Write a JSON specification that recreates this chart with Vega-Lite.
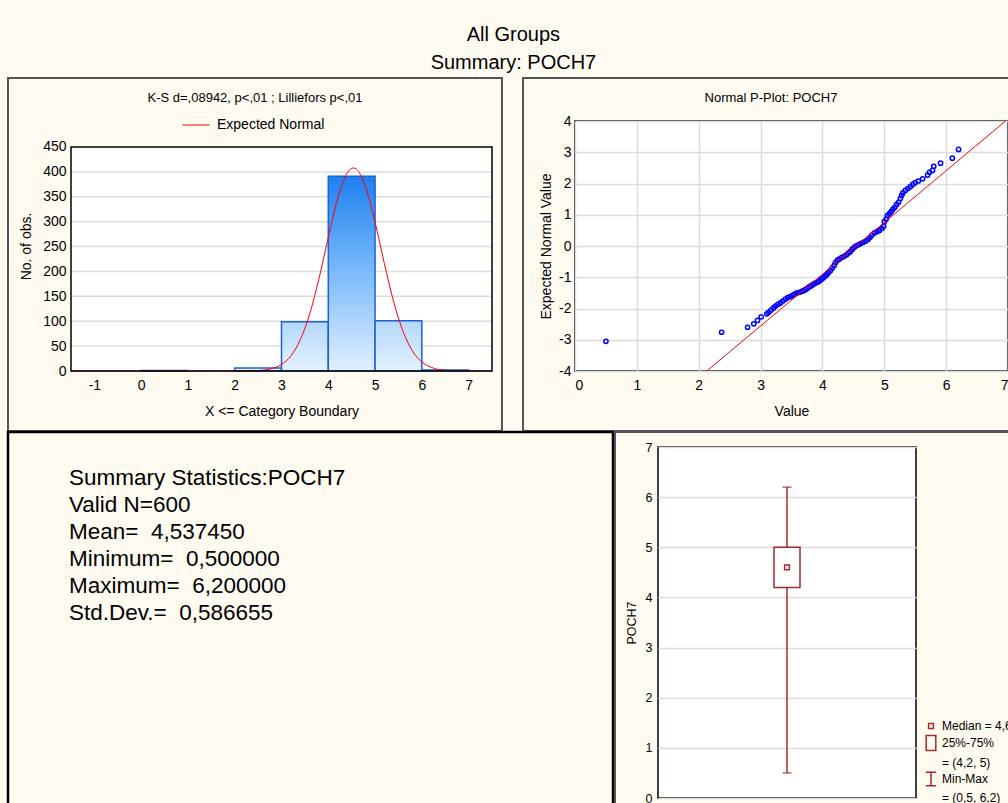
{
  "$schema": "https://vega.github.io/schema/vega-lite/v6.json",
  "background": "#FFFBF0",
  "padding": {"left": 6, "top": 25, "right": 0, "bottom": 0},
  "title": {"text": ["All Groups", "Summary: POCH7"], "fontSize": 20, "fontWeight": "normal", "font": "Liberation Sans", "lineHeight": 28, "anchor": "middle", "offset": 3, "dx": -3, "color": "#000"},
  "config": {
    "font": "Liberation Sans",
    "view": {"fill": "white", "stroke": "black", "strokeWidth": 1.5},
    "axis": {"domain": false, "ticks": false, "labelColor": "#000", "titleColor": "#000", "titleFontWeight": "normal", "labelFont": "Liberation Sans", "titleFont": "Liberation Sans", "gridColor": "#DCDCDC", "gridWidth": 1.5, "labelFontSize": 14, "titleFontSize": 14, "labelOverlap": false, "labelExpr": "datum.value < 0 ? '-' + abs(datum.value) : '' + datum.value"},
    "title": {"fontSize": 13, "fontWeight": "normal", "color": "#000", "font": "Liberation Sans"}
  },
  "resolve": {"scale": {"color": "independent", "shape": "independent"}, "legend": {"color": "independent", "shape": "independent"}},
  "columns": 1,
  "align": "none",
  "spacing": -3,
  "concat": [
    {
      "align": "none",
      "spacing": 18,
      "resolve": {"scale": {"color": "independent", "shape": "independent"}, "legend": {"color": "independent", "shape": "independent"}},
      "concat": [
        {
          "width": 421, "height": 250,
          "view": {"fill": null, "stroke": null},
          "layer": [
            {
              "data": {"values": [{}]},
              "mark": {"type": "rect", "filled": false, "stroke": "#555555", "strokeWidth": 2, "clip": false},
              "encoding": {
                "x": {"datum": -2.847, "type": "quantitative", "scale": {"domain": [-1.5, 7.5], "nice": false, "zero": false}, "axis": {"values": [-1, 0, 1, 2, 3, 4, 5, 6, 7], "title": "X <= Category Boundary", "grid": false, "labelPadding": 7, "titlePadding": 12}},
                "x2": {"datum": 7.713},
                "y": {"datum": 588.6, "type": "quantitative", "scale": {"domain": [0, 502.23], "nice": false, "zero": false}, "axis": {"values": [0, 50, 100, 150, 200, 250, 300, 350, 400, 450], "title": "No. of obs.", "grid": false, "labelPadding": 5, "titlePadding": 9}},
                "y2": {"datum": -120.5}
              }
            },
            {
              "data": {"values": [{}]},
              "mark": {"type": "text", "text": "K-S d=,08942, p<,01 ; Lilliefors p<,01", "fontSize": 13, "font": "Liberation Sans", "align": "center", "baseline": "middle", "color": "#000", "clip": false},
              "encoding": {
                "x": {"datum": 2.433, "type": "quantitative", "scale": {"domain": [-1.5, 7.5], "nice": false, "zero": false}, "axis": {"values": [-1, 0, 1, 2, 3, 4, 5, 6, 7], "title": "X <= Category Boundary", "grid": false, "labelPadding": 7, "titlePadding": 12}},
                "y": {"datum": 548.4, "type": "quantitative", "scale": {"domain": [0, 502.23], "nice": false, "zero": false}, "axis": {"values": [0, 50, 100, 150, 200, 250, 300, 350, 400, 450], "title": "No. of obs.", "grid": false, "labelPadding": 5, "titlePadding": 9}}
              }
            },
            {
              "data": {"values": [{}]},
              "mark": {"type": "rect", "fill": "white", "strokeWidth": 0},
              "encoding": {
                "x": {"datum": -1.5, "type": "quantitative", "scale": {"domain": [-1.5, 7.5], "nice": false, "zero": false}, "axis": {"values": [-1, 0, 1, 2, 3, 4, 5, 6, 7], "title": "X <= Category Boundary", "grid": false, "labelPadding": 7, "titlePadding": 12}},
                "x2": {"datum": 7.5},
                "y": {"datum": 0, "type": "quantitative", "scale": {"domain": [0, 502.23], "nice": false, "zero": false}, "axis": {"values": [0, 50, 100, 150, 200, 250, 300, 350, 400, 450], "title": "No. of obs.", "grid": false, "labelPadding": 5, "titlePadding": 9}},
                "y2": {"datum": 450}
              }
            },
            {
              "data": {"values": [{"count": 50}, {"count": 100}, {"count": 150}, {"count": 200}, {"count": 250}, {"count": 300}, {"count": 350}, {"count": 400}]},
              "mark": {"type": "rule", "color": "#DCDCDC", "strokeWidth": 1.5},
              "encoding": {
                "x": {"datum": -1.5, "type": "quantitative", "scale": {"domain": [-1.5, 7.5], "nice": false, "zero": false}, "axis": {"values": [-1, 0, 1, 2, 3, 4, 5, 6, 7], "title": "X <= Category Boundary", "grid": false, "labelPadding": 7, "titlePadding": 12}},
                "x2": {"datum": 7.5},
                "y": {"field": "count", "type": "quantitative", "scale": {"domain": [0, 502.23], "nice": false, "zero": false}, "axis": {"values": [0, 50, 100, 150, 200, 250, 300, 350, 400, 450], "title": "No. of obs.", "grid": false, "labelPadding": 5, "titlePadding": 9}}
              }
            },
            {
              "data": {"values": [
                {"value": 0, "value_end": 1, "count": 1},
                {"value": 2, "value_end": 3, "count": 6},
                {"value": 3, "value_end": 4, "count": 99},
                {"value": 4, "value_end": 5, "count": 391},
                {"value": 5, "value_end": 6, "count": 101},
                {"value": 6, "value_end": 7, "count": 2}
              ]},
              "mark": {"type": "rect", "stroke": "#1F5FD6", "strokeWidth": 1.5},
              "encoding": {
                "x": {"field": "value", "type": "quantitative", "scale": {"domain": [-1.5, 7.5], "nice": false, "zero": false}, "axis": {"values": [-1, 0, 1, 2, 3, 4, 5, 6, 7], "title": "X <= Category Boundary", "grid": false, "labelPadding": 7, "titlePadding": 12}},
                "x2": {"field": "value_end"},
                "y": {"field": "count", "type": "quantitative", "scale": {"domain": [0, 502.23], "nice": false, "zero": false}, "axis": {"values": [0, 50, 100, 150, 200, 250, 300, 350, 400, 450], "title": "No. of obs.", "grid": false, "labelPadding": 5, "titlePadding": 9}},
                "y2": {"datum": 0},
                "fill": {
                  "condition": [
                    {"test": "datum.count > 300", "value": {"gradient": "linear", "x1": 0, "y1": 0, "x2": 0, "y2": 1, "stops": [{"offset": 0, "color": "#1E80F0"}, {"offset": 0.5, "color": "#7DBBFA"}, {"offset": 1, "color": "#E2F0FF"}]}},
                    {"test": "datum.count > 50", "value": {"gradient": "linear", "x1": 0, "y1": 0, "x2": 0, "y2": 1, "stops": [{"offset": 0, "color": "#B3D7FC"}, {"offset": 1, "color": "#E4F2FF"}]}}
                  ],
                  "value": {"gradient": "linear", "x1": 0, "y1": 0, "x2": 0, "y2": 1, "stops": [{"offset": 0, "color": "#DCEEFF"}, {"offset": 1, "color": "#E6F3FF"}]}
                }
              }
            },
            {
              "data": {"values": [
                {"value": -1.5, "count": 0}, {"value": 1.5, "count": 0}, {"value": 2.0, "count": 0.04}, {"value": 2.5, "count": 0.98},
                {"value": 2.8, "count": 5.1}, {"value": 3.0, "count": 13.2}, {"value": 3.2, "count": 30.3}, {"value": 3.4, "count": 62.3},
                {"value": 3.6, "count": 113.8}, {"value": 3.8, "count": 185.2}, {"value": 4.0, "count": 268.2}, {"value": 4.2, "count": 345.8},
                {"value": 4.4, "count": 397.0}, {"value": 4.5375, "count": 408.0}, {"value": 4.6, "count": 405.7}, {"value": 4.8, "count": 369.1},
                {"value": 5.0, "count": 299.0}, {"value": 5.2, "count": 215.6}, {"value": 5.4, "count": 138.4}, {"value": 5.6, "count": 79.1},
                {"value": 5.8, "count": 40.3}, {"value": 6.0, "count": 18.2}, {"value": 6.2, "count": 7.4}, {"value": 6.5, "count": 1.5},
                {"value": 7.0, "count": 0.06}, {"value": 7.5, "count": 0}
              ]},
              "mark": {"type": "line", "interpolate": "monotone", "strokeWidth": 1},
              "encoding": {
                "x": {"field": "value", "type": "quantitative", "scale": {"domain": [-1.5, 7.5], "nice": false, "zero": false}, "axis": {"values": [-1, 0, 1, 2, 3, 4, 5, 6, 7], "title": "X <= Category Boundary", "grid": false, "labelPadding": 7, "titlePadding": 12}},
                "y": {"field": "count", "type": "quantitative", "scale": {"domain": [0, 502.23], "nice": false, "zero": false}, "axis": {"values": [0, 50, 100, 150, 200, 250, 300, 350, 400, 450], "title": "No. of obs.", "grid": false, "labelPadding": 5, "titlePadding": 9}},
                "color": {"datum": "Expected Normal", "type": "nominal", "scale": {"range": ["#FF0000"]},
                  "legend": {"title": null, "orient": "none", "legendX": 111, "legendY": -10, "direction": "horizontal", "symbolType": "stroke", "symbolSize": 729, "symbolStrokeWidth": 1, "labelFontSize": 14, "labelOffset": 7, "padding": 0, "labelColor": "#000", "labelFont": "Liberation Sans"}}
              }
            },
            {
              "data": {"values": [{}]},
              "mark": {"type": "rect", "filled": false, "stroke": "#000000", "strokeWidth": 1.5},
              "encoding": {
                "x": {"datum": -1.5, "type": "quantitative", "scale": {"domain": [-1.5, 7.5], "nice": false, "zero": false}, "axis": {"values": [-1, 0, 1, 2, 3, 4, 5, 6, 7], "title": "X <= Category Boundary", "grid": false, "labelPadding": 7, "titlePadding": 12}},
                "x2": {"datum": 7.5},
                "y": {"datum": 0, "type": "quantitative", "scale": {"domain": [0, 502.23], "nice": false, "zero": false}, "axis": {"values": [0, 50, 100, 150, 200, 250, 300, 350, 400, 450], "title": "No. of obs.", "grid": false, "labelPadding": 5, "titlePadding": 9}},
                "y2": {"datum": 450}
              }
            }
          ]
        },
        {
          "width": 433, "height": 250,
          "layer": [
            {
              "data": {"values": [{}]},
              "mark": {"type": "rect", "filled": false, "stroke": "#555555", "strokeWidth": 2, "clip": false},
              "encoding": {
                "x": {"datum": -0.84, "type": "quantitative", "scale": {"domain": [0, 7], "nice": false, "zero": false}, "axis": {"title": "Value", "values": [0, 1, 2, 3, 4, 5, 6, 7], "grid": true, "labelPadding": 7, "titlePadding": 12}},
                "x2": {"datum": 7.25},
                "y": {"datum": 5.376, "type": "quantitative", "scale": {"domain": [-4, 4], "nice": false, "zero": false}, "axis": {"title": "Expected Normal Value", "values": [-4, -3, -2, -1, 0, 1, 2, 3, 4], "grid": true, "labelPadding": 4, "titlePadding": 5}},
                "y2": {"datum": -5.92}
              }
            },
            {
              "data": {"values": [{}]},
              "mark": {"type": "text", "text": "Normal P-Plot: POCH7", "fontSize": 13, "font": "Liberation Sans", "align": "center", "baseline": "middle", "color": "#000", "clip": false},
              "encoding": {
                "x": {"datum": 3.168, "type": "quantitative", "scale": {"domain": [0, 7], "nice": false, "zero": false}, "axis": {"title": "Value", "values": [0, 1, 2, 3, 4, 5, 6, 7], "grid": true, "labelPadding": 7, "titlePadding": 12}},
                "y": {"datum": 4.736, "type": "quantitative", "scale": {"domain": [-4, 4], "nice": false, "zero": false}, "axis": {"title": "Expected Normal Value", "values": [-4, -3, -2, -1, 0, 1, 2, 3, 4], "grid": true, "labelPadding": 4, "titlePadding": 5}}
              }
            },
            {
              "data": {"values": [
                {"value": 0.5, "expected": -3.05}, {"value": 2.37, "expected": -2.76}, {"value": 2.79, "expected": -2.6},
                {"value": 2.89, "expected": -2.49}, {"value": 2.95, "expected": -2.38}, {"value": 3.01, "expected": -2.27},
                {"value": 3.1, "expected": -2.17}, {"value": 3.13, "expected": -2.12}, {"value": 3.17, "expected": -2.05},
                {"value": 3.21, "expected": -1.98}, {"value": 3.24, "expected": -1.92}, {"value": 3.28, "expected": -1.87},
                {"value": 3.32, "expected": -1.82}, {"value": 3.36, "expected": -1.76}, {"value": 3.4, "expected": -1.7},
                {"value": 3.44, "expected": -1.65}, {"value": 3.48, "expected": -1.62}, {"value": 3.52, "expected": -1.58},
                {"value": 3.55, "expected": -1.54}, {"value": 3.59, "expected": -1.5}, {"value": 3.63, "expected": -1.48},
                {"value": 3.67, "expected": -1.45}, {"value": 3.7, "expected": -1.42}, {"value": 3.73, "expected": -1.39},
                {"value": 3.76, "expected": -1.35}, {"value": 3.79, "expected": -1.3}, {"value": 3.82, "expected": -1.27},
                {"value": 3.85, "expected": -1.23}, {"value": 3.88, "expected": -1.19}, {"value": 3.92, "expected": -1.16},
                {"value": 3.95, "expected": -1.12}, {"value": 3.98, "expected": -1.07}, {"value": 4.01, "expected": -1.02},
                {"value": 4.04, "expected": -0.97}, {"value": 4.07, "expected": -0.92}, {"value": 4.1, "expected": -0.85},
                {"value": 4.13, "expected": -0.78}, {"value": 4.16, "expected": -0.7}, {"value": 4.19, "expected": -0.62},
                {"value": 4.21, "expected": -0.53}, {"value": 4.24, "expected": -0.46}, {"value": 4.27, "expected": -0.42},
                {"value": 4.31, "expected": -0.37}, {"value": 4.35, "expected": -0.33}, {"value": 4.39, "expected": -0.28},
                {"value": 4.42, "expected": -0.23}, {"value": 4.45, "expected": -0.18}, {"value": 4.48, "expected": -0.11},
                {"value": 4.51, "expected": -0.05}, {"value": 4.54, "expected": 0.0}, {"value": 4.58, "expected": 0.04},
                {"value": 4.62, "expected": 0.08}, {"value": 4.66, "expected": 0.12}, {"value": 4.7, "expected": 0.16},
                {"value": 4.74, "expected": 0.22}, {"value": 4.77, "expected": 0.28}, {"value": 4.8, "expected": 0.35},
                {"value": 4.84, "expected": 0.42}, {"value": 4.88, "expected": 0.46}, {"value": 4.92, "expected": 0.5},
                {"value": 4.96, "expected": 0.56}, {"value": 4.99, "expected": 0.63}, {"value": 5.0, "expected": 0.78},
                {"value": 5.03, "expected": 0.86}, {"value": 5.05, "expected": 0.97}, {"value": 5.08, "expected": 1.03},
                {"value": 5.11, "expected": 1.1}, {"value": 5.14, "expected": 1.18}, {"value": 5.17, "expected": 1.24},
                {"value": 5.2, "expected": 1.33}, {"value": 5.23, "expected": 1.4}, {"value": 5.26, "expected": 1.52},
                {"value": 5.28, "expected": 1.62}, {"value": 5.3, "expected": 1.7}, {"value": 5.34, "expected": 1.78},
                {"value": 5.38, "expected": 1.84}, {"value": 5.42, "expected": 1.9}, {"value": 5.46, "expected": 1.97},
                {"value": 5.5, "expected": 2.03}, {"value": 5.55, "expected": 2.08}, {"value": 5.62, "expected": 2.15},
                {"value": 5.7, "expected": 2.27}, {"value": 5.73, "expected": 2.36}, {"value": 5.78, "expected": 2.42},
                {"value": 5.8, "expected": 2.55}, {"value": 5.91, "expected": 2.65}, {"value": 6.1, "expected": 2.81},
                {"value": 6.2, "expected": 3.09}
              ]},
              "mark": {"type": "point", "shape": "circle", "filled": false, "color": "#0000FF", "size": 18, "strokeWidth": 1.5, "opacity": 1},
              "encoding": {
                "x": {"field": "value", "type": "quantitative", "scale": {"domain": [0, 7], "nice": false, "zero": false}, "axis": {"title": "Value", "values": [0, 1, 2, 3, 4, 5, 6, 7], "grid": true, "labelPadding": 7, "titlePadding": 12}},
                "y": {"field": "expected", "type": "quantitative", "scale": {"domain": [-4, 4], "nice": false, "zero": false}, "axis": {"title": "Expected Normal Value", "values": [-4, -3, -2, -1, 0, 1, 2, 3, 4], "grid": true, "labelPadding": 4, "titlePadding": 5}}
              }
            },
            {
              "data": {"values": [{"value": 2.13, "expected": -4}, {"value": 6.96, "expected": 4}]},
              "mark": {"type": "line", "color": "#FF0000", "strokeWidth": 1, "clip": true},
              "encoding": {
                "x": {"field": "value", "type": "quantitative", "scale": {"domain": [0, 7], "nice": false, "zero": false}, "axis": {"title": "Value", "values": [0, 1, 2, 3, 4, 5, 6, 7], "grid": true, "labelPadding": 7, "titlePadding": 12}},
                "y": {"field": "expected", "type": "quantitative", "scale": {"domain": [-4, 4], "nice": false, "zero": false}, "axis": {"title": "Expected Normal Value", "values": [-4, -3, -2, -1, 0, 1, 2, 3, 4], "grid": true, "labelPadding": 4, "titlePadding": 5}}
              }
            }
          ]
        }
      ]
    },
    {
      "align": "none",
      "spacing": -2,
      "resolve": {"scale": {"color": "independent", "shape": "independent"}, "legend": {"color": "independent", "shape": "independent"}},
      "concat": [
        {
          "width": 542, "height": 366,
          "view": {"fill": null, "stroke": null},
          "layer": [
            {
              "data": {"values": [{}]},
              "mark": {"type": "rect", "filled": false, "stroke": "#000000", "strokeWidth": 2.5, "clip": false},
              "encoding": {
                "x": {"datum": -63, "type": "quantitative", "scale": {"domain": [0, 542], "nice": false, "zero": false}, "axis": null},
                "x2": {"datum": 542},
                "y": {"datum": -0.963, "type": "quantitative", "scale": {"domain": [-0.407, 13.148], "reverse": true, "zero": false, "nice": false}, "axis": null},
                "y2": {"datum": 14.5}
              }
            },
            {
              "data": {"values": [
                {"line": 1, "text": "Summary Statistics:POCH7"},
                {"line": 2, "text": "Valid N=600"},
                {"line": 3, "text": "Mean=\u00a0 4,537450"},
                {"line": 4, "text": "Minimum=\u00a0 0,500000"},
                {"line": 5, "text": "Maximum=\u00a0 6,200000"},
                {"line": 6, "text": "Std.Dev.=\u00a0 0,586655"}
              ]},
              "mark": {"type": "text", "align": "left", "baseline": "alphabetic", "fontSize": 22.5, "font": "Liberation Sans", "color": "#000"},
              "encoding": {
                "x": {"datum": -2, "type": "quantitative", "scale": {"domain": [0, 542], "nice": false, "zero": false}, "axis": null},
                "y": {"field": "line", "type": "quantitative", "scale": {"domain": [-0.407, 13.148], "reverse": true, "zero": false, "nice": false}, "axis": null},
                "text": {"field": "text"}
              }
            }
          ]
        },
        {
          "width": 258, "height": 351,
          "layer": [
            {
              "data": {"values": [{}]},
              "mark": {"type": "rect", "filled": false, "stroke": "#555555", "strokeWidth": 2, "clip": false},
              "encoding": {
                "x": {"datum": -0.1667, "type": "quantitative", "scale": {"domain": [0, 1], "nice": false, "zero": false}, "axis": null},
                "x2": {"datum": 1.42},
                "y": {"datum": 7.3, "type": "quantitative", "scale": {"domain": [0, 7], "nice": false, "zero": false}, "axis": {"title": "POCH7", "values": [0, 1, 2, 3, 4, 5, 6, 7], "grid": true, "labelFontSize": 12.5, "titleFontSize": 12.5, "labelPadding": 6, "titlePadding": 7}},
                "y2": {"datum": -1}
              }
            },
            {
              "data": {"values": [{"min": 0.5, "max": 6.2}]},
              "mark": {"type": "rule", "color": "#A52A2A", "strokeWidth": 1.5},
              "encoding": {
                "x": {"datum": 0.5, "type": "quantitative", "scale": {"domain": [0, 1], "nice": false, "zero": false}, "axis": null},
                "y": {"field": "min", "type": "quantitative", "scale": {"domain": [0, 7], "nice": false, "zero": false}, "axis": {"title": "POCH7", "values": [0, 1, 2, 3, 4, 5, 6, 7], "grid": true, "labelFontSize": 12.5, "titleFontSize": 12.5, "labelPadding": 6, "titlePadding": 7}},
                "y2": {"field": "max"}
              }
            },
            {
              "data": {"values": [{"v": 0.5}, {"v": 6.2}]},
              "mark": {"type": "tick", "orient": "horizontal", "color": "#A52A2A", "thickness": 1.5, "size": 9},
              "encoding": {
                "x": {"datum": 0.5, "type": "quantitative", "scale": {"domain": [0, 1], "nice": false, "zero": false}, "axis": null},
                "y": {"field": "v", "type": "quantitative", "scale": {"domain": [0, 7], "nice": false, "zero": false}, "axis": {"title": "POCH7", "values": [0, 1, 2, 3, 4, 5, 6, 7], "grid": true, "labelFontSize": 12.5, "titleFontSize": 12.5, "labelPadding": 6, "titlePadding": 7}}
              }
            },
            {
              "data": {"values": [{"q1": 4.2, "q3": 5}]},
              "mark": {"type": "rect", "fill": "white", "stroke": "#A52A2A", "strokeWidth": 1.5},
              "encoding": {
                "x": {"datum": 0.4496, "type": "quantitative", "scale": {"domain": [0, 1], "nice": false, "zero": false}, "axis": null},
                "x2": {"datum": 0.5504},
                "y": {"field": "q1", "type": "quantitative", "scale": {"domain": [0, 7], "nice": false, "zero": false}, "axis": {"title": "POCH7", "values": [0, 1, 2, 3, 4, 5, 6, 7], "grid": true, "labelFontSize": 12.5, "titleFontSize": 12.5, "labelPadding": 6, "titlePadding": 7}},
                "y2": {"field": "q3"}
              }
            },
            {
              "data": {"values": [{"median": 4.6}]},
              "mark": {"type": "point", "filled": false, "color": "#A52A2A", "size": 256, "strokeWidth": 1.5, "opacity": 1},
              "encoding": {
                "x": {"datum": 0.5, "type": "quantitative", "scale": {"domain": [0, 1], "nice": false, "zero": false}, "axis": null},
                "y": {"field": "median", "type": "quantitative", "scale": {"domain": [0, 7], "nice": false, "zero": false}, "axis": {"title": "POCH7", "values": [0, 1, 2, 3, 4, 5, 6, 7], "grid": true, "labelFontSize": 12.5, "titleFontSize": 12.5, "labelPadding": 6, "titlePadding": 7}},
                "shape": {"datum": "Median = 4,6", "type": "nominal",
                  "scale": {"domain": ["Median = 4,6", "25%-75%", "= (4,2, 5)", "Min-Max", "= (0,5, 6,2)"],
                            "range": ["M-0.3,-0.3H0.3V0.3H-0.3Z", "M-0.6,-0.95H0.6V0.95H-0.6Z", "M0,0", "M-0.65,-0.85H0.65M0,-0.85V0.85M-0.65,0.85H0.65", "M0,0"]},
                  "legend": {"title": null, "orient": "none", "legendX": 264, "legendY": 270, "symbolSize": 256, "symbolStrokeWidth": 1.5, "symbolStrokeColor": "#A52A2A", "symbolFillColor": "transparent", "labelFontSize": 12, "labelOffset": 2, "rowPadding": 0, "padding": 0, "labelLimit": 300, "labelColor": "#000", "labelFont": "Liberation Sans"}}
              }
            }
          ]
        }
      ]
    }
  ]
}
